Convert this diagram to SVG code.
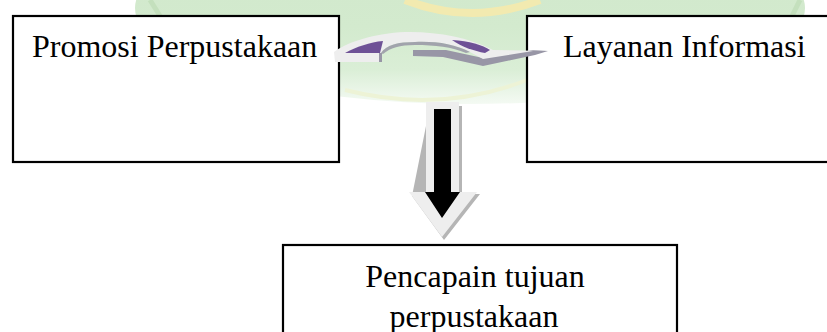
<svg xmlns="http://www.w3.org/2000/svg" width="827" height="332" viewBox="0 0 827 332">
  <style>
    .box { fill: #ffffff; stroke: #000000; stroke-width: 2.2; }
    .lbl { font-family: "Liberation Serif", "Times New Roman", serif; font-size: 32px; fill: #000000; }
    .face { fill: #eeeeee; }
    .side { fill: #9896a6; }
    .purple { fill: #6e5196; }
  </style>
  <defs>
    <linearGradient id="wm" x1="0" y1="0" x2="0" y2="1">
      <stop offset="0" stop-color="#cfe7ca"/>
      <stop offset="0.6" stop-color="#d3eace"/>
      <stop offset="0.82" stop-color="#daeed6"/>
      <stop offset="1" stop-color="#f4faf3"/>
    </linearGradient>
  </defs>

  <rect x="0" y="0" width="827" height="332" fill="#ffffff"/>

  <!-- background watermark -->
  <g id="watermark">
    <ellipse cx="470" cy="8" rx="335" ry="96" fill="url(#wm)"/>
    <path d="M150,0 L160,16" stroke="#c4e0bd" stroke-width="5" fill="none"/>
    <path d="M800,0 L792,16" stroke="#c4e0bd" stroke-width="5" fill="none"/>
    <path d="M405,0 Q472,26 540,0" stroke="#f2eab0" stroke-width="8" fill="none"/>
    <path d="M345,90 Q440,114 527,80" stroke="#edf3d6" stroke-width="4" fill="none"/>
  </g>

  <g id="node-promosi">
    <rect class="box" x="13" y="16" width="326" height="146"/>
    <text class="lbl" x="32" y="57">Promosi Perpustakaan</text>
  </g>

  <g id="node-layanan">
    <rect class="box" x="527" y="16" width="320" height="146"/>
    <text class="lbl" x="563" y="57">Layanan Informasi</text>
  </g>

  <g id="node-pencapaian">
    <rect class="box" x="283" y="245" width="394" height="110"/>
    <text class="lbl" x="475" y="287" text-anchor="middle">Pencapain tujuan</text>
    <text class="lbl" x="474" y="327" text-anchor="middle">perpustakaan</text>
  </g>

  <g id="connectors">
    <!-- curved 3D arrow from Promosi to Layanan -->
    <g id="curved-arrow">
      <!-- lower/shadow band with chevron head -->
      <path class="side" d="M413,50 L446,50 L483,58 L533,50 L548,51 L535,55 L483,66 L443,57 L413,56 Z"/>
      <!-- main light face band -->
      <path class="face" d="M334,52 C350,40 382,32 410,32 C440,32 470,38 493,50 L548,51 L533,51 L483,59 L470,52 C455,44 435,41 415,42 C398,42 386,45 381,53 L381,62 L335,62 Z"/>
      <!-- inner edge of hump -->
      <path class="side" d="M381,53 C386,45 398,42 415,42 C435,41 455,44 470,52 L466,53 C452,47 435,45 415,45 C400,45 390,48 383,54 Z" opacity="0.85"/>
      <!-- end face of left band -->
      <rect class="side" x="379" y="53" width="3" height="9"/>
      <!-- purple faces -->
      <path class="purple" d="M345,53 C356,47 370,42 383,41 L380,53 Z"/>
      <path class="purple" d="M452,40 C469,41 483,45 490,50 L485,53 C474,51 462,47 452,40 Z"/>
    </g>

    <!-- down arrow to Pencapaian -->
    <g id="down-arrow">
      <path fill="#b5b5b5" d="M430,106 L462,106 L462,194 L480,194 L444,240 L412,196 Z"/>
      <path fill="#eeeeee" d="M426,102 L459,102 L459,192 L477,192 L442,237 L409,192 L426,192 Z"/>
      <path fill="#000000" d="M434,109 L451,109 L451,192 L460,192 L442,218 L425,192 L434,192 Z"/>
    </g>
  </g>
</svg>
